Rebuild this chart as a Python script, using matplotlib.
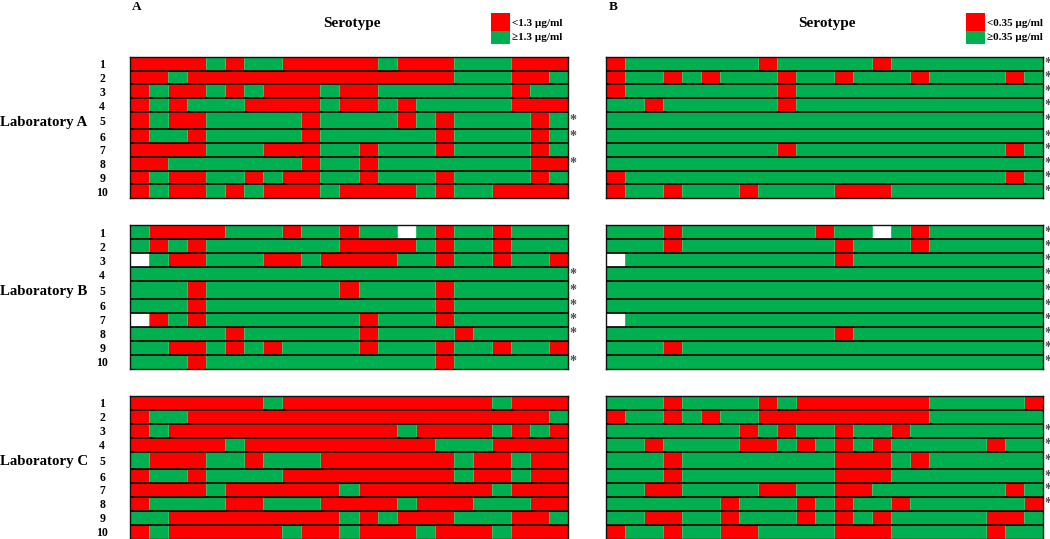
import re
import numpy as np
import matplotlib
matplotlib.use("Agg")
import matplotlib.pyplot as plt
from matplotlib.colors import ListedColormap, BoundaryNorm
from matplotlib.patches import Rectangle
from matplotlib.transforms import ScaledTranslation

plt.rcParams['font.family'] = ['Liberation Serif', 'DejaVu Serif']

# Each row is a run-length description of the 23 serotypes:
# R = below threshold, G = at or above threshold, W = no result
lab_a_panel_a = [
    "R4 G1 R1 G2 R5 G1 R3 G3 R3",
    "R2 G1 R14 G3 R2 G1",
    "R1 G1 R2 G1 R1 G1 R3 G1 R2 G7 R1 G2",
    "R1 G1 R1 G3 R4 G1 R2 G1 R1 G5 R3",
    "R1 G1 R2 G5 R1 G4 R1 G1 R1 G4 R1 G1",
    "R1 G2 R1 G5 R1 G6 R1 G4 R1 G1",
    "R4 G3 R3 G2 R1 G3 R1 G4 R1 G1",
    "R2 G7 R1 G2 R1 G8 R2",
    "R1 G1 R2 G2 R1 G1 R2 G2 R1 G3 R1 G4 R1 G1",
    "R1 G1 R2 G1 R1 G1 R3 G1 R4 G1 R1 G2 R4",
]
lab_a_panel_b = [
    "R1 G7 R1 G5 R1 G8",
    "R1 G2 R1 G1 R1 G3 R1 G2 R1 G3 R1 G4 R1 G1",
    "R1 G8 R1 G13",
    "G2 R1 G6 R1 G13",
    "G23",
    "G23",
    "G9 R1 G11 R1 G1",
    "G23",
    "R1 G20 R1 G1",
    "R1 G2 R1 G3 R1 G4 R3 G8",
]
lab_b_panel_a = [
    "G1 R4 G3 R1 G2 R1 G2 W1 G1 R1 G2 R1 G3",
    "G1 R1 G1 R1 G7 R4 G1 R1 G2 R1 G3",
    "W1 G1 R2 G3 R2 G1 R4 G2 R1 G2 R1 G2 R1",
    "G23",
    "G3 R1 G7 R1 G4 R1 G6",
    "G3 R1 G12 R1 G6",
    "W1 R1 G1 R1 G8 R1 G3 R1 G6",
    "G5 R1 G6 R1 G4 R1 G5",
    "G2 R2 G1 R1 G1 R1 G4 R1 G3 R1 G2 R1 G2 R1",
    "G3 R1 G12 R1 G6",
]
lab_b_panel_b = [
    "G3 R1 G7 R1 G2 W1 G1 R1 G6",
    "G3 R1 G8 R1 G3 R1 G6",
    "W1 G11 R1 G10",
    "G23",
    "G23",
    "G23",
    "W1 G22",
    "G12 R1 G10",
    "G3 R1 G19",
    "G23",
]
lab_c_panel_a = [
    "R7 G1 R11 G1 R3",
    "R1 G2 R19 G1",
    "R1 G1 R12 G1 R4 G1 R1 G1 R1",
    "R5 G1 R10 G3 R4",
    "G1 R3 G2 R1 G3 R7 G1 R2 G1 R2",
    "R1 G2 R1 G4 R9 G1 R2 G1 R2",
    "R4 G1 R6 G1 R7 G1 R3",
    "R1 G4 R2 G3 R4 G1 R3 G3 R2",
    "G2 R9 G1 R1 G1 R3 G3 R2 G1",
    "R1 G1 R6 G1 R2 G1 R3 G1 R3 G1 R3",
]
lab_c_panel_b = [
    "G3 R1 G4 R1 G1 R7 G5 R1",
    "R1 G2 R1 G1 R1 G2 R9 G6",
    "G7 R1 G1 R1 G2 R1 G2 R1 G7",
    "G2 R1 G4 R2 G1 R1 G1 R1 G1 R1 G5 R1 G2",
    "G3 R1 G8 R3 G1 R1 G6",
    "G3 R1 G8 R3 G8",
    "G2 R2 G4 R2 G2 R2 G7 R1 G1",
    "G6 R1 G3 R1 G1 R1 G2 R1 G6 R1",
    "G2 R2 G2 R1 G3 R1 G1 R1 G1 R1 G5 R2 G1",
    "R1 G2 R1 G2 R2 G4 R3 G5 R1 G2",
]

row_labels = ["1", "2", "3", "4", "5", "6", "7", "8", "9", "10"]
lab_names = ["Laboratory A", "Laboratory B", "Laboratory C"]
stars_a = [[5, 6, 8], [4, 5, 6, 7, 8, 10], []]
stars_b = [list(range(1, 11)), list(range(1, 11)), [3, 4, 5, 6, 7, 8]]
panel_titles = ["A", "B"]
legend_a = ["<1.3 µg/ml", "\u22651.3 µg/ml"]
legend_b = ["<0.35 µg/ml", "\u22650.35 µg/ml"]

W, H = 1050, 539
RED, GREEN, GREEN_EDGE = "#FF0000", "#00B050", "#2CC46C"
STAR = "#4D4D4D"
CODE = {"R": 0, "G": 1, "W": 2}
cmap = ListedColormap([RED, GREEN, "#FFFFFF"])
norm = BoundaryNorm([-0.5, 0.5, 1.5, 2.5], 3)


def expand(rows):
    out = []
    for r in rows:
        vals = []
        for c, n in re.findall(r"([RGW])(\d+)", r):
            vals += [CODE[c]] * int(n)
        assert len(vals) == 23, r
        out.append(vals)
    return np.array(out)


fig = plt.figure(figsize=(W / 100, H / 100), dpi=100)
fig.patch.set_facecolor("white")


def px_axes(x0, y0, x1, y1, **kw):
    return fig.add_axes([x0 / W, 1 - y1 / H, (x1 - x0) / W, (y1 - y0) / H], **kw)


row_heights = np.array([1, 1, 1, 1, 1.27, 1, 1, 1, 1, 1], float)
edges = np.concatenate([[0], np.cumsum(row_heights)])
centers = (edges[:-1] + edges[1:]) / 2

panel_x = [(130, 568), (605.5, 1042.7)]
lab_y = [(57, 198), (225.5, 368.5), (396, 538.5)]
data = [[lab_a_panel_a, lab_a_panel_b], [lab_b_panel_a, lab_b_panel_b], [lab_c_panel_a, lab_c_panel_b]]
stars = [stars_a, stars_b]

for i, (y0, y1) in enumerate(lab_y):
    for j, (x0, x1) in enumerate(panel_x):
        ax = px_axes(x0, y0, x1, y1)
        grid = expand(data[i][j])
        ax.pcolormesh(np.arange(24), edges, grid, cmap=cmap, norm=norm,
                      antialiased=False, linewidth=0)
        ax.set_xlim(0, 23)
        ax.set_ylim(edges[-1], 0)
        # lighter seam where a green run meets another colour
        for r in range(10):
            for c in np.flatnonzero(np.diff(grid[r]) != 0):
                ax.vlines(c + 1, edges[r], edges[r + 1], color=GREEN_EDGE, lw=0.7, zorder=2)
        ax.hlines(edges[1:-1], 0, 23, color="black", lw=1.2, zorder=3)
        ax.set_xticks([])
        for s in ax.spines.values():
            s.set_linewidth(1.0)
            s.set_color("#111111")
        if j == 0:
            ax.set_yticks(centers)
            ax.set_yticklabels(row_labels, fontsize=8.5, fontweight="bold", ha="center")
            ax.tick_params(axis="y", length=0, pad=20)
        else:
            ax.set_yticks([])
        shift = ScaledTranslation(5 / 100, 0, fig.dpi_scale_trans)
        for r in stars[j][i]:
            ax.text(23, centers[r - 1], "*", fontsize=10, fontweight="bold", color=STAR,
                    ha="center", va="center", transform=ax.transData + shift, clip_on=False)
    fig.text(0, 1 - (y0 + 1.5 + (edges[4] + edges[5]) / 2 / edges[-1] * (y1 - y0)) / H, lab_names[i],
             fontsize=10.7, fontweight="bold", ha="left", va="center")

for title, tx, sx, legend, lx in [(panel_titles[0], 132, 352, legend_a, 491),
                                  (panel_titles[1], 609, 827, legend_b, 966)]:
    fig.text(tx / W, 1 - 0.5 / H, title, fontsize=9.5, fontweight="bold", ha="left", va="top")
    fig.text(sx / W, 1 - 23 / H, "Serotype", fontsize=11, fontweight="bold", ha="center", va="center")
    fig.add_artist(Rectangle((lx / W, 1 - 31 / H), 19 / W, 18.5 / H, transform=fig.transFigure, fc=RED, ec="none"))
    fig.add_artist(Rectangle((lx / W, 1 - 43.5 / H), 19 / W, 12.5 / H, transform=fig.transFigure, fc=GREEN, ec="none"))
    fig.text((lx + 21) / W, 1 - 24 / H, legend[0], fontsize=8, fontweight="bold", ha="left", va="center")
    fig.text((lx + 21) / W, 1 - 38 / H, legend[1], fontsize=8, fontweight="bold", ha="left", va="center")

fig.savefig("out.png", dpi=100)
